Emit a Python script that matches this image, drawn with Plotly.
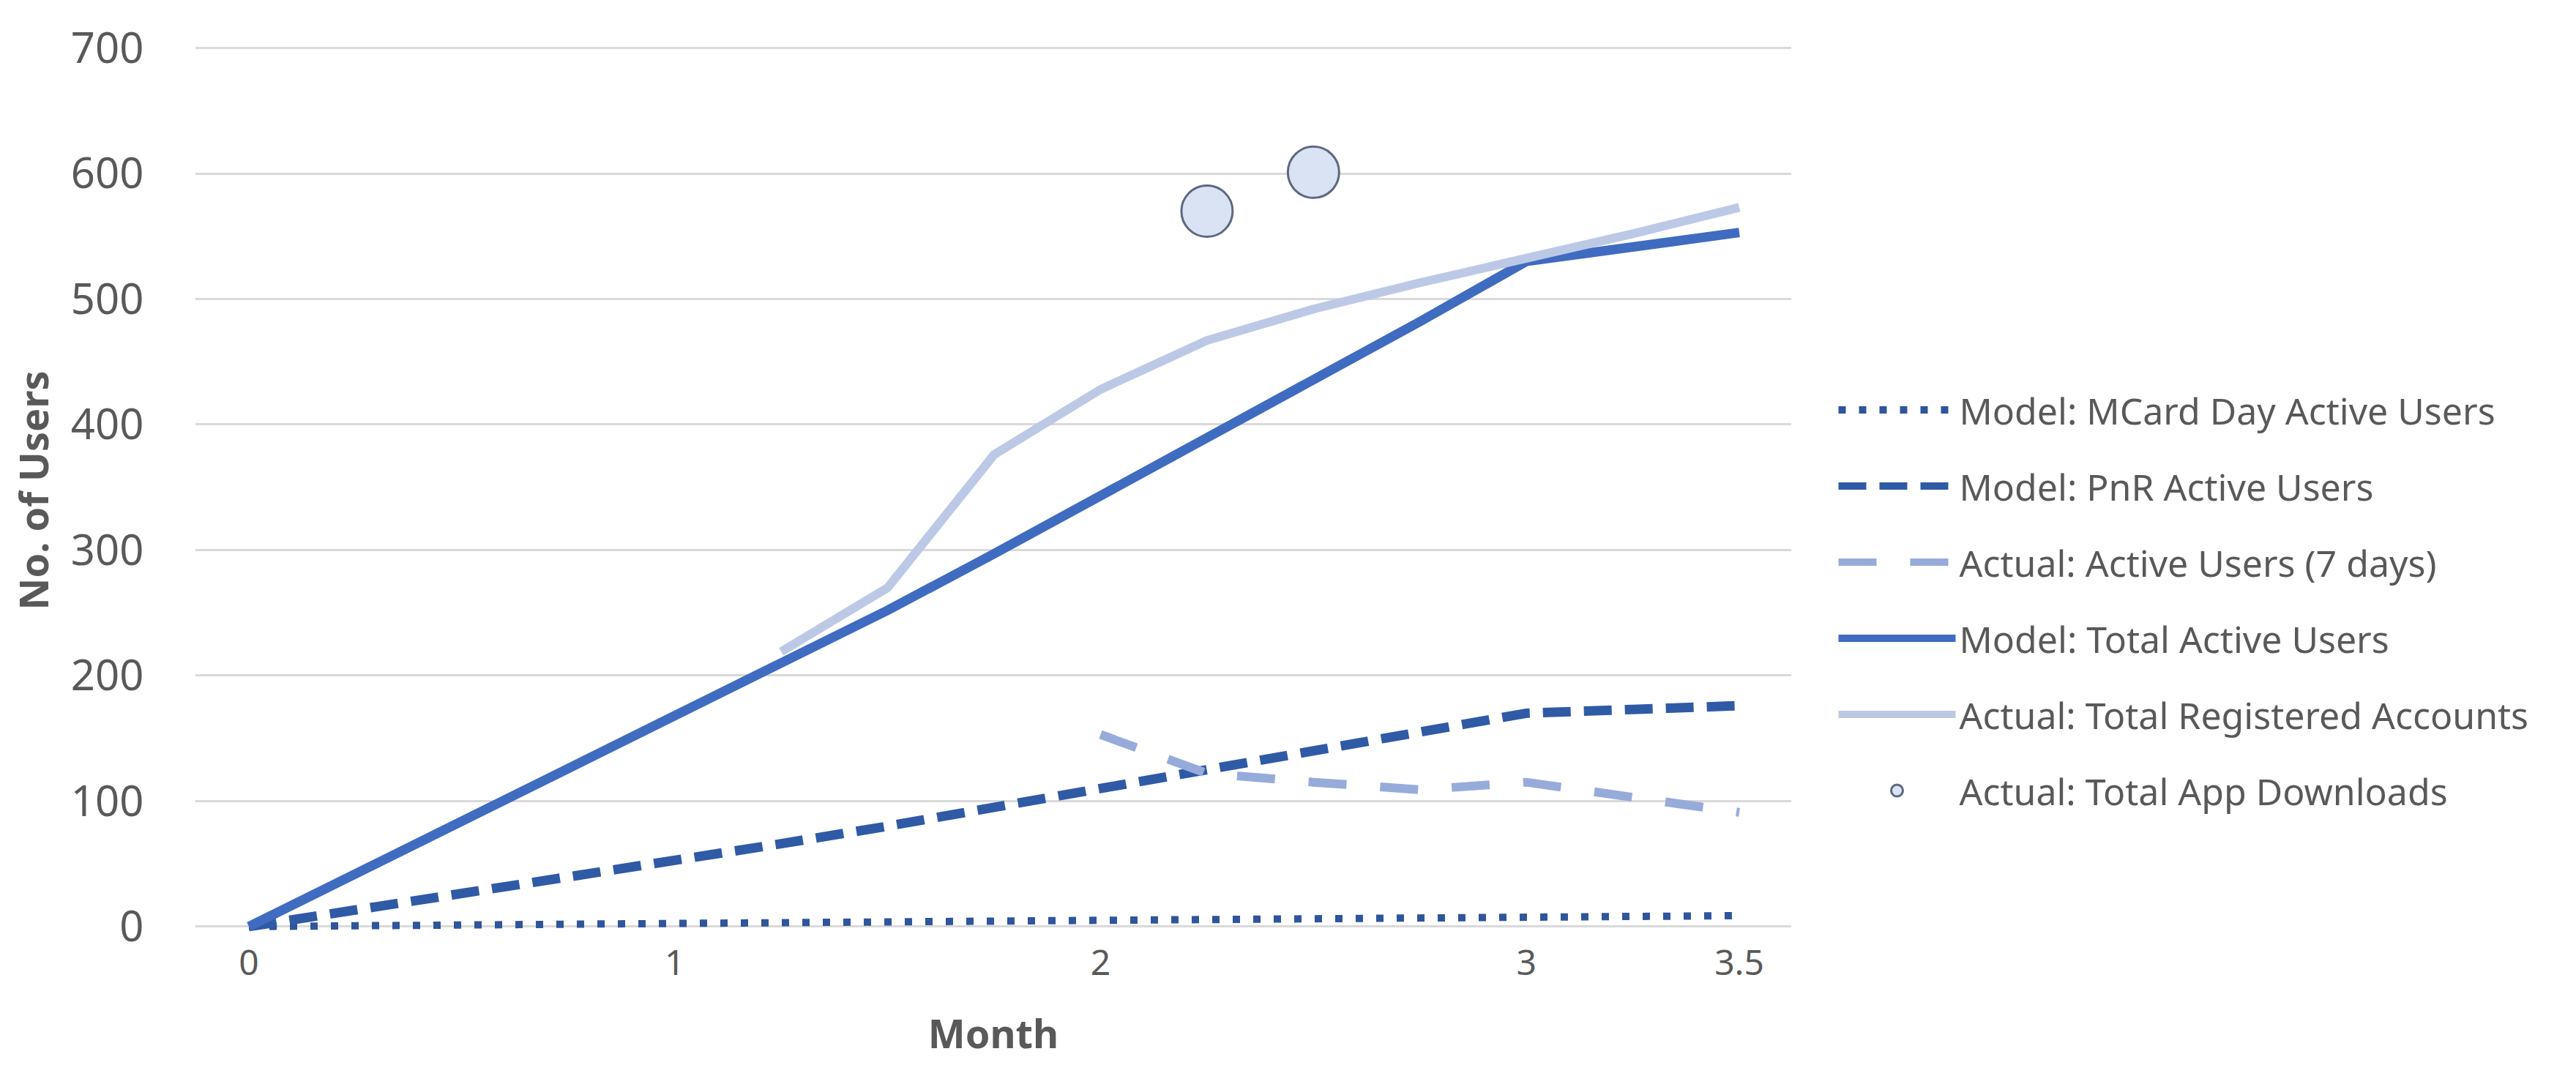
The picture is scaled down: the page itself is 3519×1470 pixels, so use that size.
import plotly.graph_objects as go

# ---- data ----
months = [0, 0.25, 0.5, 0.75, 1, 1.25, 1.5, 1.75, 2, 2.25, 2.5, 2.75, 3, 3.25, 3.5]
model_mcard = [0, 0.7, 1.4, 2.1, 2.8, 3.4, 4.1, 4.8, 5.4, 6.0, 6.6, 7.2, 7.8, 8.3, 8.7]
model_pnr = [0, 13, 26, 39, 52, 66, 80, 95, 110, 125, 140, 155, 170, 173, 176]
model_total = [0, 42, 84, 126, 168, 208, 252, 297, 343, 388, 435, 482, 530, 542, 553]

actual_months = [1.25, 1.5, 1.75, 2, 2.25, 2.5, 2.75, 3, 3.25, 3.5]
actual_registered = [219, 270, 376, 428, 467, 492, 513, 532, 552, 573]

active_months = [2, 2.25, 2.5, 2.75, 3, 3.25, 3.5]
actual_active7 = [153, 122, 115, 109, 115, 103, 91]

download_months = [2.25, 2.5]
actual_downloads = [570, 601]

x_ticks = [0, 1, 2, 3, 3.5]
x_ticktext = ["0", "1", "2", "3", "3.5"]
y_ticks = [0, 100, 200, 300, 400, 500, 600, 700]

FONT = "Noto Sans"
GRAY = "#595959"

fig = go.Figure()

fig.add_trace(go.Scatter(
    x=months, y=model_mcard, mode="lines", name="Model: MCard Day Active Users",
    legendgroup="a",
    line=dict(color="#2F559A", width=10, dash="10px,18px")))
fig.add_trace(go.Scatter(
    x=months, y=model_pnr, mode="lines", name="Model: PnR Active Users",
    legendgroup="b",
    line=dict(color="#2F5AA6", width=13, dash="38px,18px")))
fig.add_trace(go.Scatter(
    x=active_months, y=actual_active7, mode="lines", name="Actual: Active Users (7 days)",
    legendgroup="c",
    line=dict(color="#97ABDB", width=12, dash="52px,46px")))
fig.add_trace(go.Scatter(
    x=months, y=model_total, mode="lines", name="Model: Total Active Users",
    legendgroup="d",
    line=dict(color="#3F6CC0", width=13)))
fig.add_trace(go.Scatter(
    x=actual_months, y=actual_registered, mode="lines", name="Actual: Total Registered Accounts",
    legendgroup="e",
    line=dict(color="#BCC9E6", width=12)))
fig.add_trace(go.Scatter(
    x=download_months, y=actual_downloads, mode="markers", name="Actual: Total App Downloads",
    legendgroup="f",
    marker=dict(size=70, color="#DAE3F3", line=dict(color="#5D6880", width=3))))

fig.update_layout(
    width=3519, height=1470,
    paper_bgcolor="white", plot_bgcolor="white",
    margin=dict(l=259, r=1080, t=49, b=195),
    font=dict(family=FONT, color=GRAY),
    showlegend=True,
    legend=dict(
        xref="container", yref="container",
        x=0.710, y=0.651, xanchor="left", yanchor="top",
        font=dict(family=FONT, size=50, color=GRAY),
        itemwidth=160, tracegroupgap=36,
        bgcolor="rgba(0,0,0,0)",
    ),
)

fig.update_xaxes(
    range=[-0.1255, 3.622],
    tickvals=x_ticks, ticktext=x_ticktext,
    tickfont=dict(family=FONT, size=48, color=GRAY),
    ticks="", 
    showgrid=False, zeroline=False, showline=False,
    title=dict(text="<b>Month</b>", font=dict(family=FONT, size=54, color=GRAY), standoff=49),
)
fig.update_yaxes(
    range=[-10, 705],
    tickvals=y_ticks,
    tickfont=dict(family=FONT, size=58, color=GRAY),
    ticks="outside", ticklen=58, tickcolor="rgba(0,0,0,0)",
    showgrid=True, gridcolor="#D9D9D9", gridwidth=3,
    zeroline=False, showline=False,
    title=dict(text="<b>No. of Users</b>", font=dict(family=FONT, size=54, color=GRAY), standoff=22),
)

fig.write_html("out.html")
